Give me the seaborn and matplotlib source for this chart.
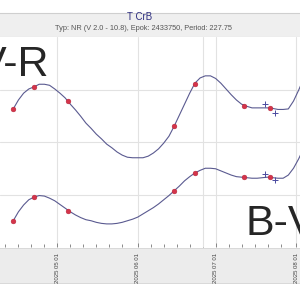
import pandas as pd
import matplotlib
matplotlib.use('Agg')
import matplotlib.pyplot as plt
import matplotlib.dates as mdates
from matplotlib.patches import Rectangle
import seaborn as sns

# fitted colour curves, every 2 days starting 2025-04-14
curve_start = '2025-04-14'
vr_curve = [2.63, 2.80, 2.93, 3.01, 3.05, 3.10, 3.10, 3.08, 3.01, 2.93,
            2.84, 2.72, 2.61, 2.49, 2.36, 2.26, 2.15, 2.06, 1.96, 1.89,
            1.81, 1.75, 1.71, 1.70, 1.70, 1.70, 1.73, 1.79, 1.87, 1.98,
            2.11, 2.30, 2.51, 2.72, 2.93, 3.12, 3.22, 3.26, 3.26, 3.21,
            3.12, 3.01, 2.90, 2.80, 2.72, 2.68, 2.65, 2.65, 2.65, 2.65,
            2.64, 2.62, 2.62, 2.63, 2.78, 2.99, 3.22]
bv_curve = [0.50, 0.67, 0.80, 0.90, 0.95, 0.98, 0.97, 0.93, 0.88, 0.81,
            0.74, 0.67, 0.61, 0.56, 0.52, 0.50, 0.47, 0.45, 0.44, 0.44,
            0.45, 0.47, 0.50, 0.53, 0.57, 0.63, 0.69, 0.75, 0.82, 0.90,
            0.98, 1.07, 1.16, 1.26, 1.34, 1.41, 1.46, 1.50, 1.50, 1.49,
            1.45, 1.41, 1.37, 1.34, 1.33, 1.32, 1.31, 1.31, 1.32, 1.33,
            1.32, 1.31, 1.31, 1.37, 1.50, 1.68, 1.89]

# observations (red dots)
obs_dates = ['2025-04-14', '2025-04-22', '2025-05-05', '2025-06-15',
             '2025-06-23', '2025-07-12', '2025-07-22']
vr_obs = [2.63, 3.05, 2.78, 2.30, 3.10, 2.69, 2.65]
bv_obs = [0.50, 0.95, 0.69, 1.07, 1.41, 1.33, 1.33]

# other observations (blue plus)
plus_dates = ['2025-07-20', '2025-07-24']
vr_plus = [2.72, 2.55]
bv_plus = [1.39, 1.28]

marker_date = '2025-06-26'
title = 'T CrB'
subtitle = 'Typ: NR (V 2.0 - 10.8), Epok: 2433750, Period: 227.75'

curve_df = pd.DataFrame({
    'date': pd.date_range(curve_start, periods=len(vr_curve), freq='2D'),
    'vr': vr_curve, 'bv': bv_curve})
obs_df = pd.DataFrame({'date': pd.to_datetime(obs_dates), 'vr': vr_obs, 'bv': bv_obs})
plus_df = pd.DataFrame({'date': pd.to_datetime(plus_dates), 'vr': vr_plus, 'bv': bv_plus})

sns.set_style('white')
plt.rcParams['font.family'] = ['Liberation Sans', 'DejaVu Sans']

fig = plt.figure(figsize=(3, 3), dpi=100)
ax = fig.add_axes([0, 1 - 247 / 300, 1, 210 / 300])

# header and footer bands
fig.patches.append(Rectangle((-0.01, 1 - 37 / 300), 1.02, 24 / 300, transform=fig.transFigure,
                             facecolor='#efefef', edgecolor='#cfcfcf', lw=0.8, zorder=-1))
fig.patches.append(Rectangle((-0.01, 1 - 283 / 300), 1.02, 35 / 300, transform=fig.transFigure,
                             facecolor='#ececec', edgecolor='#d4d4d4', lw=0.6, zorder=-1))

for col in ['vr', 'bv']:
    sns.lineplot(data=curve_df, x='date', y=col, ax=ax, color='#5a5a90', lw=0.8,
                 estimator=None, sort=False, zorder=3)
    sns.scatterplot(data=obs_df, x='date', y=col, ax=ax, color='#d4344a', s=12,
                    edgecolor='#b02035', linewidth=0.3, zorder=4)
    sns.scatterplot(data=plus_df, x='date', y=col, ax=ax, color='#4a4aa0', marker='+',
                    s=14, linewidth=0.7, zorder=4)

ax.axvline(pd.Timestamp(marker_date), color='#e2e2e2', lw=0.8, zorder=1)

d0 = pd.Timestamp('2025-05-01')
ax.set_xlim(d0 - pd.Timedelta(days=22.1), d0 + pd.Timedelta(days=93.5))
ax.set_ylim(0, 4)
ax.set_yticks([1, 2, 3])
ax.set_yticklabels([])

ax.xaxis.set_major_locator(mdates.MonthLocator())
ax.xaxis.set_major_formatter(mdates.DateFormatter('%Y %m %d'))
ax.xaxis.set_minor_locator(mdates.DayLocator(bymonthday=[6, 11, 16, 21, 26]))
ax.tick_params(axis='x', which='major', direction='in', length=3, width=0.6,
               color='#777777', labelsize=4.3, labelcolor='#444444', rotation=90, pad=4,
               bottom=True)
ax.tick_params(axis='x', which='minor', direction='in', length=2.2, width=0.6,
               color='#777777', bottom=True)
ax.tick_params(axis='y', length=0)
ax.grid(True, which='major', color='#e2e2e2', lw=0.8)
ax.set_xlabel('')
ax.set_ylabel('')
for s in ax.spines.values():
    s.set_visible(False)

fig.text(140 / 300, 1 - 16.5 / 300, title, ha='center', va='center',
         fontsize=7, color='#2e2e80')
fig.text(143 / 300, 1 - 28 / 300, subtitle, ha='center', va='center',
         fontsize=5.3, color='#555555')

fig.text(49 / 300, 1 - 76 / 300, 'V-R', ha='right', va='baseline', fontsize=31)
fig.text(246 / 300, 1 - 235 / 300, 'B-V', ha='left', va='baseline', fontsize=31)

fig.savefig('out.png', dpi=100, facecolor='white')
